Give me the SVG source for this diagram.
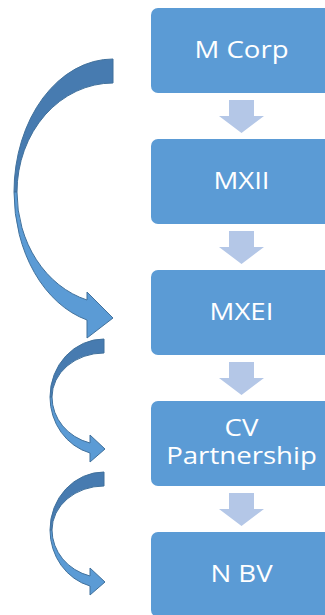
<svg xmlns="http://www.w3.org/2000/svg" width="325" height="615" viewBox="0 0 325 615">
<defs>
<style>
.box{fill:#5b9bd5;}
.lbl{fill:#ffffff;font-family:"Open Sans","DejaVu Sans",sans-serif;font-size:23px;text-anchor:middle;}
.small{fill:#b4c7e7;}
.back{fill:#477bb0;stroke:#41719c;stroke-width:1;stroke-linejoin:round;}
.front{fill:#5b9bd5;stroke:#41719c;stroke-width:1;stroke-linejoin:round;}
</style>
<path id="dn" d="M10,0 H35 V16 H45 L22.5,33 L0,16 H10 Z"/>
</defs>
<rect width="325" height="615" fill="#ffffff"/>
<g id="connectors">
<use href="#dn" class="small" x="219" y="100"/>
<use href="#dn" class="small" x="219" y="231"/>
<use href="#dn" class="small" x="219" y="362"/>
<use href="#dn" class="small" x="219" y="493"/>
<g id="curve1">
<path class="back" d="M113,59 A99,133 0 0 0 14,192 L17,192 A96,109 0 0 1 113,83 Z"/>
<path class="front" d="M14,192 A99,133 0 0 0 87,320 L87,338 L113,318 L87,292 L87,300 A96,112 0 0 1 17,192 Z"/>
</g>
<g id="curve2">
<path class="back" d="M104,339 A54,58 0 0 0 50,397 L52,397 A52,44 0 0 1 104,353 Z"/>
<path class="front" d="M50,397 A54,58 0 0 0 90,453 L90,462 L105,449 L90,435 L90,443 A52,48 0 0 1 52,397 Z"/>
</g>
<g id="curve3" transform="translate(0,133)">
<path class="back" d="M104,339 A54,58 0 0 0 50,397 L52,397 A52,44 0 0 1 104,353 Z"/>
<path class="front" d="M50,397 A54,58 0 0 0 90,453 L90,462 L105,449 L90,435 L90,443 A52,48 0 0 1 52,397 Z"/>
</g>
</g>
<g id="mcorp">
<rect class="box" x="151" y="8" width="190" height="85" rx="7"/>
<text class="lbl" transform="translate(241.5,58) scale(1.2,1)">M Corp</text>
</g>
<g id="mxii">
<rect class="box" x="151" y="139" width="190" height="85" rx="7"/>
<text class="lbl" transform="translate(241.5,189) scale(1.2,1)">MXII</text>
</g>
<g id="mxei">
<rect class="box" x="151" y="270" width="190" height="85" rx="7"/>
<text class="lbl" transform="translate(241.5,320) scale(1.2,1)">MXEI</text>
</g>
<g id="cv">
<rect class="box" x="151" y="401" width="190" height="85" rx="7"/>
<text class="lbl" transform="translate(241.5,436) scale(1.2,1)">CV</text>
<text class="lbl" transform="translate(241.5,464) scale(1.2,1)">Partnership</text>
</g>
<g id="nbv">
<rect class="box" x="151" y="532" width="190" height="85" rx="7"/>
<text class="lbl" transform="translate(241.5,582) scale(1.2,1)">N BV</text>
</g>
</svg>
